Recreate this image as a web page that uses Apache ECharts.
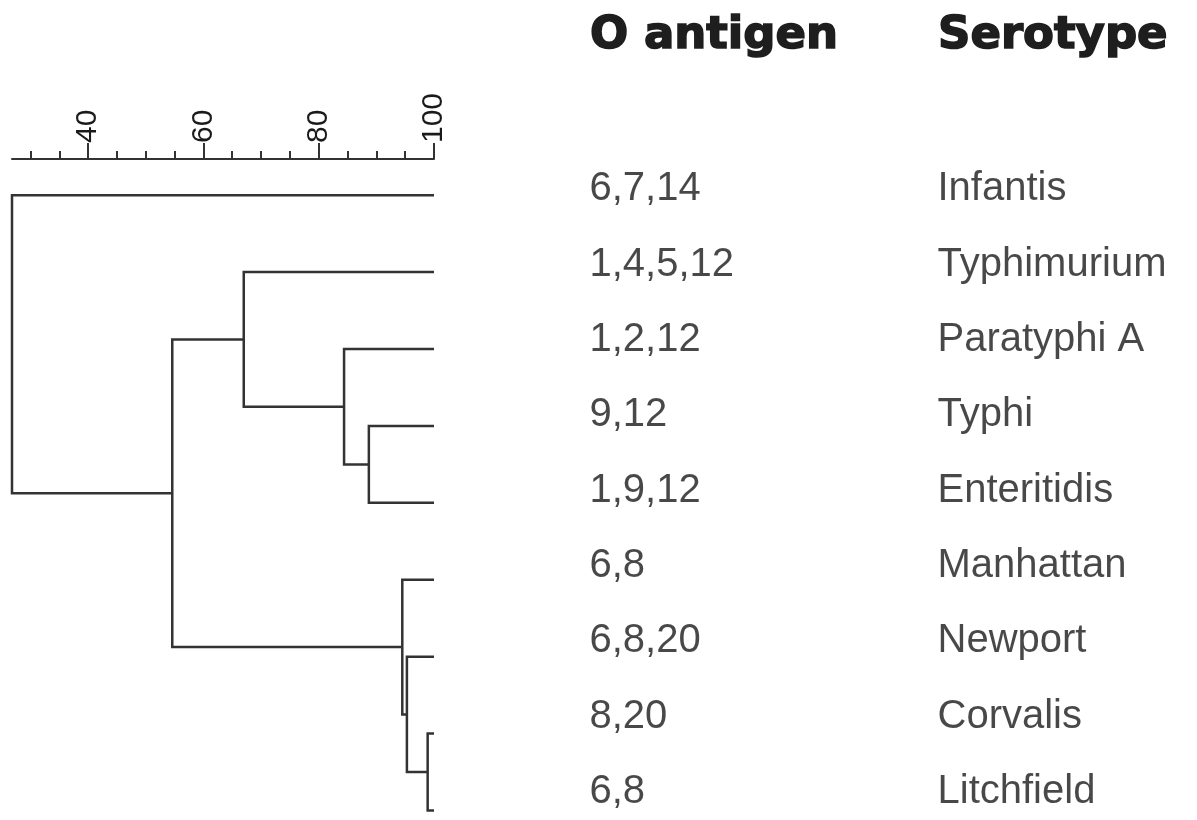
<!DOCTYPE html>
<html>
<head>
<meta charset="utf-8">
<script src="https://cdn.jsdelivr.net/npm/echarts@6/dist/echarts.min.js"></script>
<style>
  html, body { margin: 0; padding: 0; background: #fff; }
  #main { width: 1197px; height: 820px; }
</style>
</head>
<body>
<div id="main"></div>
<script>
// leaves, top to bottom
var serotypes = ['Infantis', 'Typhimurium', 'Paratyphi A', 'Typhi', 'Enteritidis', 'Manhattan', 'Newport', 'Corvalis', 'Litchfield'];
var oAntigens = ['6,7,14', '1,4,5,12', '1,2,12', '9,12', '1,9,12', '6,8', '6,8,20', '8,20', '6,8'];
var columns = ['O antigen', 'Serotype'];
// merges: [childA, childB, similarity]; new node ids start at 9
var merges = [
    [3, 4, 88.7],
    [2, 9, 84.4],
    [1, 10, 67.0],
    [7, 8, 98.9],
    [6, 12, 95.3],
    [5, 13, 94.5],
    [11, 14, 54.6],
    [0, 15, 26.8]
];
var minorTicks = [30, 35, 40, 45, 50, 55, 60, 65, 70, 75, 80, 85, 90, 95, 100];
var majorTicks = [40, 60, 80, 100];

// node positions (x = similarity, y = leaf row), one bracket per merge
var nodeX = [], nodeY = [];
serotypes.forEach(function (s, i) { nodeX.push(100); nodeY.push(i); });
var segs = [];
merges.forEach(function (m) {
    var a = m[0], b = m[1], h = m[2];
    segs.push({ coords: [[nodeX[a], nodeY[a]], [h, nodeY[a]], [h, nodeY[b]], [nodeX[b], nodeY[b]]] });
    nodeX.push(h);
    nodeY.push((nodeY[a] + nodeY[b]) / 2);
});

var lineColor = '#333';
var txtColor = '#1a1a1a';

var myChart = echarts.init(document.getElementById('main'));
var option = {
    backgroundColor: '#ffffff',
    animation: false,
    grid: [
        { left: 12, width: 422, top: 159, height: 690, outerBoundsMode: 'none', containLabel: false },
        { left: 590, width: 348, top: 152, height: 678, outerBoundsMode: 'none', containLabel: false }
    ],
    xAxis: [
        {   // minor ticks + axis line
            gridIndex: 0, type: 'value', position: 'top', min: 26.8, max: 100,
            axisLine: { show: true, onZero: false, lineStyle: { color: lineColor, width: 2 } },
            axisTick: { show: true, customValues: minorTicks, length: 8, lineStyle: { color: lineColor, width: 2 } },
            axisLabel: { show: false },
            splitLine: { show: false }
        },
        {   // major ticks + labels
            gridIndex: 0, type: 'value', position: 'top', min: 26.8, max: 100,
            axisLine: { show: false, onZero: false },
            axisTick: { show: true, customValues: majorTicks, length: 16, lineStyle: { color: lineColor, width: 2 } },
            axisLabel: {
                show: true, customValues: majorTicks, rotate: -90, margin: 16,
                fontFamily: 'Liberation Sans', fontSize: 30, color: txtColor
            },
            splitLine: { show: false }
        },
        {   // column headers
            gridIndex: 1, type: 'category', position: 'top', data: columns, boundaryGap: false,
            axisLine: { show: false, onZero: false }, axisTick: { show: false },
            axisLabel: {
                show: true, align: 'left', verticalAlign: 'middle', margin: 116,
                fontFamily: 'DejaVu Sans', fontWeight: 'bold', fontSize: 45, color: '#1e1e1e',
                textBorderColor: '#1e1e1e', textBorderWidth: 1.6
            }
        }
    ],
    yAxis: [
        { gridIndex: 0, type: 'value', inverse: true, min: -0.47, max: 8.5, show: false },
        { gridIndex: 1, type: 'value', inverse: true, min: -0.5, max: 8.5, show: false }
    ],
    series: [
        {
            type: 'lines', coordinateSystem: 'cartesian2d', xAxisIndex: 0, yAxisIndex: 0,
            polyline: true, silent: true, clip: false,
            lineStyle: { color: lineColor, width: 2.5, opacity: 1 },
            data: segs
        },
        {
            type: 'scatter', xAxisIndex: 2, yAxisIndex: 1, symbolSize: 1,
            itemStyle: { color: 'transparent' },
            label: {
                show: true, position: [0, 0], align: 'left', verticalAlign: 'middle',
                fontFamily: 'Liberation Sans', fontSize: 40, color: txtColor,
                formatter: function (p) { return p.name; }
            },
            data: oAntigens.map(function (t, i) { return { name: t, value: [0, i] }; })
        },
        {
            type: 'scatter', xAxisIndex: 2, yAxisIndex: 1, symbolSize: 1,
            itemStyle: { color: 'transparent' },
            label: {
                show: true, position: [0, 0], align: 'left', verticalAlign: 'middle',
                fontFamily: 'Liberation Sans', fontSize: 40, color: txtColor,
                formatter: function (p) { return p.name; }
            },
            data: serotypes.map(function (t, i) { return { name: t, value: [1, i] }; })
        }
    ]
};
myChart.setOption(option);
</script>
</body>
</html>
